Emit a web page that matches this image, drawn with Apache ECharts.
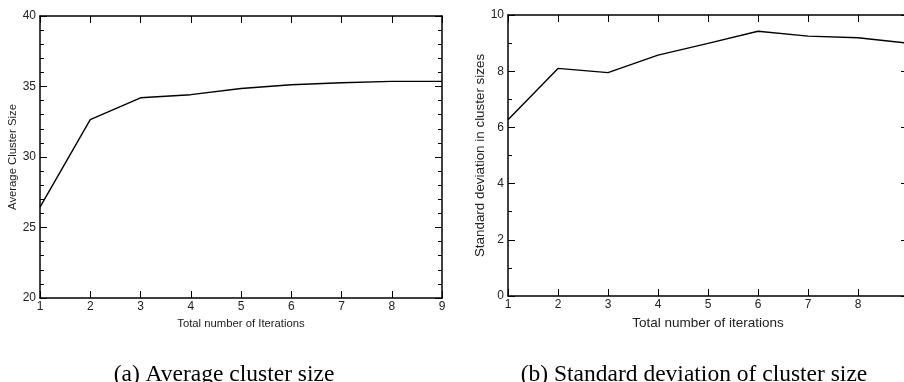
<!DOCTYPE html>
<html>
<head>
<meta charset="utf-8">
<script src="https://cdn.jsdelivr.net/npm/echarts@6/dist/echarts.min.js"></script>
<style>
  html, body { margin: 0; padding: 0; background: #fff; }
  #chart { width: 904px; height: 382px; }
</style>
</head>
<body>
<div id="chart"></div>
<script>
// iterations on the x axis (shared by both panels)
const iterations = [1, 2, 3, 4, 5, 6, 7, 8, 9];
// (a) average cluster size per iteration
const avgClusterSize = [26.45, 32.65, 34.2, 34.42, 34.86, 35.12, 35.27, 35.36, 35.36];
// (b) standard deviation of cluster sizes per iteration
const stdClusterSize = [6.27, 8.1, 7.95, 8.57, 8.99, 9.42, 9.25, 9.19, 9.0];
const captions = ['(a) Average cluster size', '(b) Standard deviation of cluster size'];

const chart = echarts.init(document.getElementById('chart'));

const sans = 'Liberation Sans, Arial, sans-serif';
const serif = 'Liberation Serif, Times New Roman, serif';
const axisLine = { show: true, onZero: false, lineStyle: { color: '#000', width: 1.5 } };

function xAxes(gridIndex, name, nameGap, fontSize) {
    const base = {
        type: 'value', gridIndex, min: 1, max: 9, interval: 1,
        axisLine,
        axisTick: { show: true, inside: true, length: 7, lineStyle: { color: '#000', width: 1 } },
        splitLine: { show: false }
    };
    return [
        Object.assign({}, base, {
            position: 'bottom',
            axisLabel: { color: '#222', fontSize: 12, fontFamily: sans, margin: 3 },
            name,
            nameLocation: 'middle',
            nameGap,
            nameTextStyle: { color: '#222', fontSize, fontFamily: sans }
        }),
        Object.assign({}, base, { position: 'top', axisLabel: { show: false } })
    ];
}

function yAxes(gridIndex, min, max, interval, name, nameGap, fontSize) {
    const base = {
        type: 'value', gridIndex, min, max, interval,
        axisLine,
        axisTick: { show: true, inside: true, length: 7, lineStyle: { color: '#000', width: 1 } },
        minorTick: { show: true, splitNumber: interval, length: 4, lineStyle: { color: '#000', width: 1 } },
        splitLine: { show: false }
    };
    return [
        Object.assign({}, base, {
            position: 'left',
            axisLabel: { color: '#222', fontSize: 12, fontFamily: sans, margin: 4 },
            name,
            nameLocation: 'middle',
            nameGap,
            nameTextStyle: { color: '#222', fontSize, fontFamily: sans }
        }),
        Object.assign({}, base, { position: 'right', axisLabel: { show: false } })
    ];
}

const option = {
    animation: false,
    backgroundColor: '#fff',
    grid: [
        { left: 40, right: 462, top: 16, bottom: 84, outerBoundsMode: 'none' },
        { left: 508, width: 400, top: 15, bottom: 86, outerBoundsMode: 'none' }
    ],
    xAxis: [
        ...xAxes(0, 'Total number of Iterations', 16, 11.3),
        ...xAxes(1, 'Total number of iterations', 15, 13.5)
    ],
    yAxis: [
        ...yAxes(0, 20, 40, 5, 'Average Cluster Size', 19, 11.3),
        ...yAxes(1, 0, 10, 2, 'Standard deviation in cluster sizes', 18, 13.4)
    ],
    title: [
        {
            text: captions[0], left: 219, top: 358, textAlign: 'center',
            textStyle: { fontFamily: serif, fontSize: 23.5, fontWeight: 'normal', color: '#000' }
        },
        {
            text: captions[1], left: 689, top: 358, textAlign: 'center',
            textStyle: { fontFamily: serif, fontSize: 23.5, fontWeight: 'normal', color: '#000' }
        }
    ],
    series: [
        {
            type: 'line', xAxisIndex: 0, yAxisIndex: 0,
            data: iterations.map((x, i) => [x, avgClusterSize[i]]),
            showSymbol: false, lineStyle: { color: '#000', width: 1.4 }
        },
        {
            type: 'line', xAxisIndex: 2, yAxisIndex: 2,
            data: iterations.map((x, i) => [x, stdClusterSize[i]]),
            showSymbol: false, lineStyle: { color: '#000', width: 1.4 }
        }
    ]
};

chart.setOption(option);
</script>
</body>
</html>
